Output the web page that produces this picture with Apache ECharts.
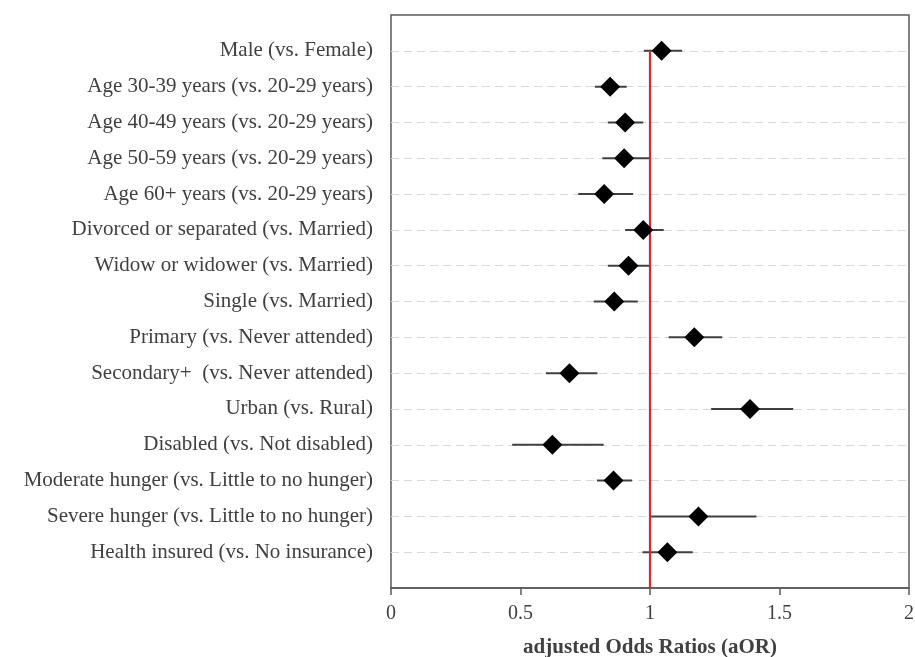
<!DOCTYPE html>
<html>
<head>
<meta charset="utf-8">
<script src="https://cdn.jsdelivr.net/npm/echarts@6/dist/echarts.min.js"></script>
<style>html,body{margin:0;padding:0;background:#fff;}#c{width:915px;height:657px;}</style>
</head>
<body>
<div id="c"></div>
<script>
const categories = [
  "Male (vs. Female)",
  "Age 30-39 years (vs. 20-29 years)",
  "Age 40-49 years (vs. 20-29 years)",
  "Age 50-59 years (vs. 20-29 years)",
  "Age 60+ years (vs. 20-29 years)",
  "Divorced or separated (vs. Married)",
  "Widow or widower (vs. Married)",
  "Single (vs. Married)",
  "Primary (vs. Never attended)",
  "Secondary+  (vs. Never attended)",
  "Urban (vs. Rural)",
  "Disabled (vs. Not disabled)",
  "Moderate hunger (vs. Little to no hunger)",
  "Severe hunger (vs. Little to no hunger)",
  "Health insured (vs. No insurance)"
];
const aOR  = [1.045, 0.846, 0.904, 0.900, 0.823, 0.974, 0.917, 0.862, 1.171, 0.689, 1.386, 0.623, 0.859, 1.187, 1.067];
const ciLo = [0.976, 0.787, 0.837, 0.816, 0.723, 0.904, 0.837, 0.783, 1.072, 0.598, 1.236, 0.468, 0.795, 1.000, 0.971];
const ciHi = [1.124, 0.910, 0.974, 0.999, 0.935, 1.053, 0.999, 0.953, 1.279, 0.797, 1.553, 0.821, 0.931, 1.411, 1.165];
const xTicks = [0, 0.5, 1, 1.5, 2];
const refValue = 1;

const serif = "'Liberation Serif', 'Times New Roman', serif";
const chart = echarts.init(document.getElementById('c'));
const rowIdx = categories.map((_, i) => i + 1);

chart.setOption({
  animation: false,
  grid: {left: 391, right: 6, top: 15, bottom: 69, show: true, borderColor: '#595959', borderWidth: 1.5,
    containLabel: false, outerBoundsMode: 'none'},
  xAxis: {
    type: 'value', min: xTicks[0], max: xTicks[xTicks.length - 1], interval: 0.5,
    name: 'adjusted Odds Ratios (aOR)', nameLocation: 'middle', nameGap: 49,
    nameTextStyle: {fontFamily: serif, fontSize: 21, fontWeight: 'bold', color: '#404040'},
    axisLine: {show: true, onZero: false, lineStyle: {color: '#595959', width: 1.5}},
    axisTick: {show: true, inside: false, length: 7, lineStyle: {color: '#595959', width: 1.5}},
    axisLabel: {fontFamily: serif, fontSize: 20, color: '#404040', margin: 16,
      formatter: v => xTicks.includes(v) ? String(v) : ''},
    splitLine: {show: false}
  },
  yAxis: {
    type: 'value', inverse: true, min: 0, max: categories.length + 1, interval: 1,
    axisLine: {show: false}, axisTick: {show: false},
    axisLabel: {fontFamily: serif, fontSize: 21, color: '#404040', margin: 18,
      formatter: v => (v >= 1 && v <= categories.length) ? categories[v - 1] : ''},
    splitLine: {show: true, showMinLine: false, showMaxLine: false,
      lineStyle: {color: '#d9d9d9', type: [8, 5], width: 1}}
  },
  series: [
    {
      type: 'custom',
      data: rowIdx.map((r, i) => [ciLo[i], ciHi[i], r]),
      renderItem: (params, api) => {
        const a = api.coord([api.value(0), api.value(2)]);
        const b = api.coord([api.value(1), api.value(2)]);
        return {type: 'line', shape: {x1: a[0], y1: a[1], x2: b[0], y2: b[1]},
          style: {stroke: '#404040', lineWidth: 2}};
      },
      z: 2
    },
    {
      type: 'line',
      data: [[refValue, 1], [refValue, categories.length + 1]],
      symbol: 'none',
      lineStyle: {color: '#d42a2a', width: 2.2},
      z: 3
    },
    {
      type: 'scatter',
      data: rowIdx.map((r, i) => [aOR[i], r]),
      symbol: 'diamond', symbolSize: 20,
      itemStyle: {color: '#000', opacity: 1},
      z: 4
    }
  ]
});
</script>
</body>
</html>
